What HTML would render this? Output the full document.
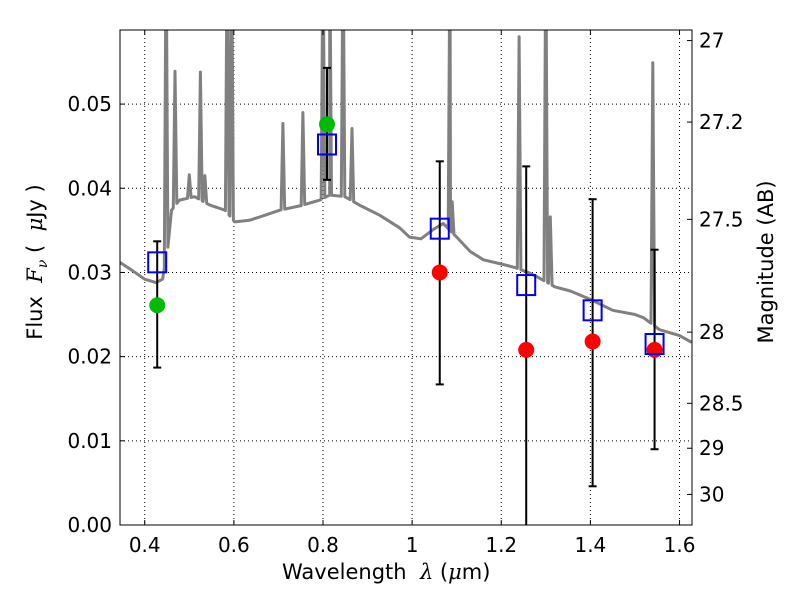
<!DOCTYPE html>
<html><head><meta charset="utf-8"><style>
html,body{margin:0;background:#fff;width:800px;height:600px;overflow:hidden;position:relative}
svg{font-family:"DejaVu Sans","Liberation Sans",sans-serif;display:block}
</style></head><body>
<svg id="chart" width="800" height="600" xmlns="http://www.w3.org/2000/svg"></svg>
<script>
const contLam=[0.344,0.373,0.40,0.425,0.440,0.452,0.460,0.478,0.512,0.546,0.580,0.602,0.635,0.670,0.703,0.748,0.793,0.815,0.849,0.882,0.927,0.972,0.994,1.02,1.05,1.07,1.10,1.13,1.16,1.20,1.23,1.26,1.28,1.32,1.355,1.40,1.45,1.50,1.52,1.53,1.555,1.60,1.627];
const contFlux=[0.0312,0.0302,0.0292,0.0288,0.0292,0.0330,0.0374,0.0386,0.0390,0.0380,0.0374,0.0360,0.0362,0.0368,0.0374,0.0379,0.0386,0.0392,0.0390,0.0380,0.0368,0.0353,0.0342,0.0340,0.0352,0.0358,0.0342,0.0325,0.0315,0.0310,0.0306,0.0300,0.0295,0.0283,0.0278,0.0268,0.0255,0.0250,0.0246,0.0242,0.0232,0.0225,0.0217];
const lineLam=[0.448,0.468,0.500,0.525,0.535,0.585,0.595,0.710,0.755,0.800,0.815,0.845,0.865,1.085,1.090,1.240,1.300,1.310,1.540];
const linePeak=[0.070,0.0539,0.0416,0.0538,0.0415,0.070,0.070,0.0477,0.0490,0.070,0.070,0.070,0.0471,0.070,0.0384,0.0580,0.070,0.0366,0.0549];
const photLam=[0.428,0.809,1.062,1.256,1.405,1.544];
const photFlux=[0.0261,0.0476,0.0300,0.0208,0.0218,0.0208];
const errLo=[0.0187,0.0410,0.0167,0.0,0.0046,0.0090];
const errHi=[0.0337,0.0543,0.0432,0.0426,0.0387,0.0327];
const modelFlux=[0.0312,0.0452,0.0352,0.0285,0.0255,0.0215];
const xTicks=[0.4,0.6,0.8,1.0,1.2,1.4,1.6];
const xTickLabels=["0.4","0.6","0.8","1","1.2","1.4","1.6"];
const yTicks=[0,0.01,0.02,0.03,0.04,0.05];
const yTickLabels=["0.00","0.01","0.02","0.03","0.04","0.05"];
const magTicks=[27,27.2,27.5,28,28.5,29,30];
const magLabels=["27","27.2","27.5","28","28.5","29","30"];

const L=120,R=692,T=30,B=525,X0=0.3445,X1=1.628,Y0=0,Y1=0.0588;
const sx=v=>L+(v-X0)/(X1-X0)*(R-L);
const sy=v=>B-(v-Y0)/(Y1-Y0)*(B-T);
const svg=document.getElementById('chart');
const NS='http://www.w3.org/2000/svg';
function mk(tag,at,parent){const e=document.createElementNS(NS,tag);for(const k in at)e.setAttribute(k,at[k]);(parent||svg).appendChild(e);return e;}
const defs=mk('defs',{});
const cp=mk('clipPath',{id:'clip'},defs);mk('rect',{x:L,y:T,width:R-L,height:B-T},cp);
xTicks.forEach(v=>{const g=mk('line',{x1:sx(v),x2:sx(v),y1:T,y2:B,stroke:'#000','stroke-dasharray':'1,3','stroke-width':1});

});
yTicks.forEach(v=>{const g=mk('line',{x1:L,x2:R,y1:sy(v),y2:sy(v),stroke:'#000','stroke-dasharray':'1,3','stroke-width':1});

});
function cont(l){for(let i=0;i<contLam.length-1;i++){if(l>=contLam[i]&&l<=contLam[i+1]){const t=(l-contLam[i])/(contLam[i+1]-contLam[i]);return contFlux[i]+t*(contFlux[i+1]-contFlux[i]);}}return contFlux[contFlux.length-1];}
let pts=contLam.map((l,i)=>[l,contFlux[i]]);
lineLam.forEach((l,i)=>{pts.push([l-0.004,cont(l-0.004)]);pts.push([l,linePeak[i]]);pts.push([l+0.004,cont(l+0.004)]);});
pts.sort((a,b)=>a[0]-b[0]);
const sp=mk('polyline',{points:pts.map(p=>sx(p[0]).toFixed(1)+','+sy(p[1]).toFixed(1)).join(' '),fill:'none',stroke:'#808080','stroke-width':3,'stroke-linejoin':'round','clip-path':'url(#clip)'});


photLam.forEach((l,i)=>{
 const x=sx(l);
 const e=mk('g',{stroke:'#000','stroke-width':2,'clip-path':'url(#clip)'});
 
 
 mk('line',{x1:x,x2:x,y1:sy(errLo[i]),y2:sy(errHi[i])},e);
 mk('line',{x1:x-4,x2:x+4,y1:sy(errHi[i]),y2:sy(errHi[i])},e);
 if(errLo[i]>0)mk('line',{x1:x-4,x2:x+4,y1:sy(errLo[i]),y2:sy(errLo[i])},e);
});
photLam.forEach((l,i)=>{
 const c=mk('circle',{cx:sx(l),cy:sy(photFlux[i]),r:8,fill:l<0.9?'#00bb00':'#ff0000'});
 
 
});
photLam.forEach((l,i)=>{
 const s=mk('rect',{x:sx(l)-9,y:sy(modelFlux[i])-10,width:18,height:20,fill:'none',stroke:'#0000ee','stroke-width':2});
 
 
});
const fr=mk('rect',{x:L,y:T,width:R-L,height:B-T,fill:'none',stroke:'#000','stroke-width':1});


xTicks.forEach((v,i)=>{
 mk('line',{x1:sx(v),x2:sx(v),y1:B,y2:B-5,stroke:'#000'});mk('line',{x1:sx(v),x2:sx(v),y1:T,y2:T+5,stroke:'#000'});
 const t=mk('text',{x:sx(v),y:B+27,'text-anchor':'middle','font-size':20});t.textContent=xTickLabels[i];
 
 
});
yTicks.forEach((v,i)=>{
 mk('line',{x1:L,x2:L+5,y1:sy(v),y2:sy(v),stroke:'#000'});
 const t=mk('text',{x:L-8,y:sy(v)+7,'text-anchor':'end','font-size':20});t.textContent=yTickLabels[i];
 
 
});
magTicks.forEach((m,i)=>{
 const y=sy(Math.pow(10,(23.9-m)/2.5));
 mk('line',{x1:R-5,x2:R,y1:y,y2:y,stroke:'#000'});
 const t=mk('text',{x:R+7,y:y+7,'font-size':20});t.textContent=magLabels[i];
 
 
});
</script>
<div style="position:absolute;left:282px;top:560px;font:21px 'DejaVu Sans',sans-serif">Wavelength&nbsp; <i style="font-family:'DejaVu Serif',serif">λ</i> (<i style="font-family:'DejaVu Serif',serif">μ</i>m)</div>
<div style="position:absolute;left:37px;top:262px;transform:translate(-50%,-50%) rotate(-90deg);white-space:nowrap;font:21px 'DejaVu Sans',sans-serif">Flux&nbsp; <i style="font-family:'DejaVu Serif',serif">F<sub style="font-size:14px">ν</sub></i>&nbsp;(&nbsp; <i style="font-family:'DejaVu Serif',serif">μ</i>Jy )</div>
<div style="position:absolute;left:766px;top:262px;transform:translate(-50%,-50%) rotate(-90deg);white-space:nowrap;font:21px 'DejaVu Sans',sans-serif">Magnitude (AB)</div>
</body></html>
